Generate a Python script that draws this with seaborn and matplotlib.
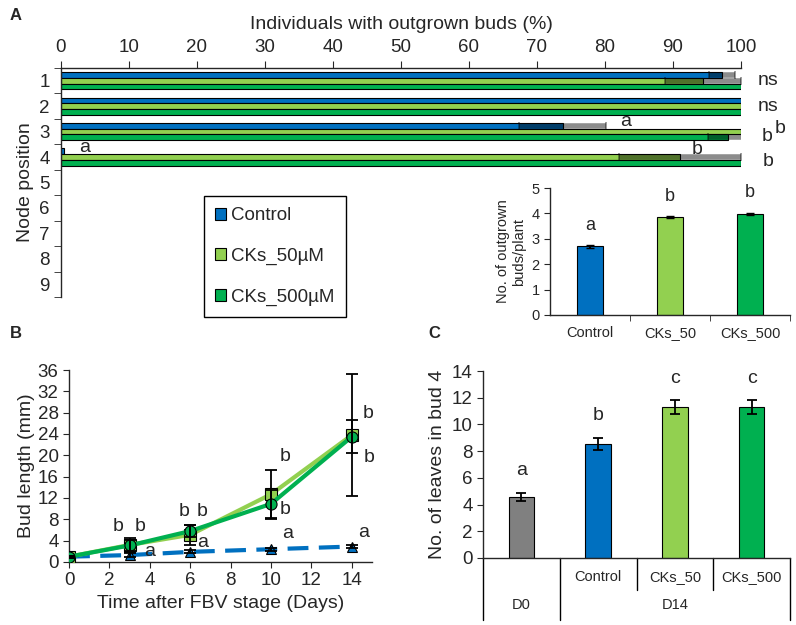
'''
Bud outgrowth figure (panels A, inset, B, C)
'''
import matplotlib
matplotlib.use('Agg')
import matplotlib.pyplot as plt
from matplotlib.patches import Patch
from matplotlib.ticker import FixedLocator
import seaborn as sns
import pandas as pd

sns.set_style('ticks')
plt.rcParams['font.family'] = ['Liberation Sans', 'DejaVu Sans']
plt.rcParams['axes.linewidth'] = 1.0

blue, lgreen, dgreen, grey = '#0070C0', '#92D050', '#00B050', '#808080'

# Panel A data: % individuals with outgrown buds per node
nodes = ['1', '2', '3', '4', '5', '6', '7', '8', '9']
treatments = ['Control', 'CKs_50µM', 'CKs_500µM']
pct_control = [97.2, 100, 73.8, 0.5]
pct_ck50 = [94.4, 100, 100, 91.0]
pct_ck500 = [100, 100, 98.1, 100]
err_control = [1.9, 0, 6.4, 0]
err_ck50 = [5.6, 0, 0, 9.0]
err_ck500 = [0, 0, 3.0, 0]

# Inset data: outgrown buds per plant
inset_groups = ['Control', 'CKs_50', 'CKs_500']
buds_per_plant = [2.7, 3.85, 3.98]
buds_err = [0.06, 0.04, 0.03]
buds_letters = ['a', 'b', 'b']

# Panel B data: bud length over time
days = [0, 3, 6, 10, 14]
len_control = [1.0, 1.3, 1.9, 2.4, 2.9]
len_ck50 = [1.0, 3.2, 5.1, 12.7, 23.8]
len_ck500 = [1.0, 3.1, 5.8, 10.9, 23.5]
lerr_control = [0.1, 0.3, 0.3, 0.3, 0.3]
lerr_ck50 = [0.2, 1.3, 1.9, 4.6, 11.4]
lerr_ck500 = [0.2, 1.0, 1.2, 2.6, 3.1]

# Panel C data: leaves in bud 4
leaf_groups = ['D0', 'Control', 'CKs_50', 'CKs_500']
leaves = [4.6, 8.55, 11.3, 11.3]
leaves_err = [0.3, 0.45, 0.5, 0.5]
leaves_letters = ['a', 'b', 'c', 'c']

fig = plt.figure(figsize=(7.96, 6.25), dpi=100)

'''
Panel A
'''
axA = fig.add_axes([0.0766, 0.5248, 0.8543, 0.3664])
rows = []
for vals, t in zip([pct_control, pct_ck50, pct_ck500], treatments):
    for n, v in zip(nodes, vals):
        rows.append({'node': n, 'treatment': t, 'pct': v})
dfA = pd.DataFrame(rows)
barw = 0.68
sns.barplot(data=dfA, x='pct', y='node', hue='treatment', order=nodes,
            hue_order=treatments, palette=[blue, lgreen, dgreen], width=barw,
            saturation=1, edgecolor='black', linewidth=0.8, errorbar=None,
            orient='h', legend=False, ax=axA)
for i, (vals, errs) in enumerate(zip([pct_control, pct_ck50, pct_ck500],
                                     [err_control, err_ck50, err_ck500])):
    for j, (v, e) in enumerate(zip(vals, errs)):
        if e > 0:
            yc = j - barw / 2 + barw / 3 * (i + 0.5)
            axA.errorbar(v, yc, xerr=e, fmt='none', ecolor='black', alpha=0.45,
                         elinewidth=4, capsize=3, capthick=1.2, zorder=5)
axA.set_xlim(0, 100)
axA.set_ylim(8.5, -0.5)
axA.xaxis.tick_top()
axA.xaxis.set_label_position('top')
axA.set_xticks(range(0, 101, 10))
axA.set_xlabel('Individuals with outgrown buds (%)', fontsize=14, labelpad=7)
axA.set_ylabel('Node position', fontsize=14, labelpad=4)
axA.tick_params(axis='x', labelsize=13.5, length=5, direction='out')
axA.tick_params(axis='y', which='major', labelsize=13.5, length=0, pad=8)
axA.yaxis.set_minor_locator(FixedLocator([k - 0.5 for k in range(10)]))
axA.tick_params(axis='y', which='minor', length=5)
axA.spines['right'].set_visible(False)
axA.spines['bottom'].set_visible(False)

for x, y, s in [(104, 0, 'ns'), (104, 1, 'ns'), (83, 1.62, 'a'),
                (105.7, 1.86, 'b'), (103.8, 2.21, 'b'), (3.5, 2.61, 'a'),
                (93.5, 2.72, 'b'), (104, 3.19, 'b')]:
    axA.text(x, y, s, fontsize=14, ha='center', va='center', clip_on=False)

handles = [Patch(facecolor=c, edgecolor='black', linewidth=0.8)
           for c in [blue, lgreen, dgreen]]
leg = fig.legend(handles, treatments, loc='upper left',
                 bbox_to_anchor=(0.256, 0.686), fontsize=13.5, frameon=True,
                 fancybox=False, edgecolor='black', framealpha=1,
                 handlelength=0.6, handleheight=0.6, handletextpad=0.25,
                 labelspacing=1.25, borderpad=0.6, borderaxespad=0)
leg.get_frame().set_linewidth(1.0)

'''
Inset: buds per plant
'''
axI = fig.add_axes([0.691, 0.496, 0.3015, 0.2032])
sns.barplot(x=inset_groups, y=buds_per_plant, hue=inset_groups,
            palette=[blue, lgreen, dgreen], width=0.33, saturation=1,
            edgecolor='black', linewidth=0.8, legend=False, ax=axI)
axI.errorbar(range(3), buds_per_plant, yerr=buds_err, fmt='none',
             ecolor='black', elinewidth=1.5, capsize=3)
for k, (v, s) in enumerate(zip(buds_per_plant, buds_letters)):
    axI.text(k, v + 0.5, s, fontsize=13, ha='center', va='bottom')
axI.set_xlim(-0.5, 2.5)
axI.set_ylim(0, 5)
axI.set_yticks(range(0, 6))
axI.set_ylabel('No. of outgrown\nbuds/plant', fontsize=10.5)
axI.tick_params(axis='both', which='major', labelsize=10.5)
axI.tick_params(axis='x', which='major', length=0, pad=8)
axI.xaxis.set_minor_locator(FixedLocator([0.5, 1.5, 2.5]))
axI.tick_params(axis='x', which='minor', length=4)
axI.tick_params(axis='y', length=4)
axI.set_facecolor('none')
sns.despine(ax=axI)

'''
Panel B: bud length
'''
axB = fig.add_axes([0.0867, 0.1008, 0.3807, 0.3072])
dfB = pd.DataFrame({'day': days, 'control': len_control,
                    'ck50': len_ck50, 'ck500': len_ck500})
sns.lineplot(data=dfB, x='day', y='control', color=blue, lw=3,
             linestyle=(0, (5, 2.5)), marker='^', markersize=7,
             markeredgecolor='black', markeredgewidth=0.8, ax=axB, zorder=2)
sns.lineplot(data=dfB, x='day', y='ck50', color=lgreen, lw=3, marker='s',
             markersize=8, markeredgecolor='black', markeredgewidth=0.8,
             ax=axB, zorder=3)
sns.lineplot(data=dfB, x='day', y='ck500', color=dgreen, lw=3, marker='o',
             markersize=8, markeredgecolor='black', markeredgewidth=0.8,
             ax=axB, zorder=4)
for vals, errs in [(len_control, lerr_control), (len_ck50, lerr_ck50),
                   (len_ck500, lerr_ck500)]:
    axB.errorbar(days, vals, yerr=errs, fmt='none', ecolor='black',
                 elinewidth=1.3, capsize=4, capthick=1.3, zorder=5)
for x, y, s in [(2.42, 6.6, 'b'), (3.5, 6.6, 'b'), (4.0, 1.9, 'a'),
                (5.7, 9.4, 'b'), (6.6, 9.4, 'b'), (6.6, 3.6, 'a'),
                (10.7, 19.7, 'b'), (10.7, 9.9, 'b'), (10.8, 5.4, 'a'),
                (14.8, 27.9, 'b'), (14.85, 19.5, 'b'), (14.6, 5.6, 'a')]:
    axB.text(x, y, s, fontsize=14, ha='center', va='center')
axB.set_xlim(0, 15)
axB.set_ylim(0, 36)
axB.set_xticks(range(0, 15, 2))
axB.set_yticks(range(0, 37, 4))
axB.set_xlabel('Time after FBV stage (Days)', fontsize=14)
axB.set_ylabel('Bud length (mm)', fontsize=14, labelpad=2)
axB.tick_params(labelsize=13.5, length=4)
sns.despine(ax=axB)

'''
Panel C: leaves in bud 4
'''
axC = fig.add_axes([0.6068, 0.1072, 0.3857, 0.2992])
sns.barplot(x=leaf_groups, y=leaves, hue=leaf_groups,
            palette=[grey, blue, lgreen, dgreen], width=0.33, saturation=1,
            edgecolor='black', linewidth=0.8, legend=False, ax=axC)
axC.errorbar(range(4), leaves, yerr=leaves_err, fmt='none', ecolor='black',
             elinewidth=1.3, capsize=3.5, capthick=1.3)
for k, (v, e, s) in enumerate(zip(leaves, leaves_err, leaves_letters)):
    axC.text(k, v + e + 1.0, s, fontsize=14, ha='center', va='bottom')
axC.set_xlim(-0.5, 3.5)
axC.set_ylim(0, 14)
axC.set_yticks(range(0, 15, 2))
axC.set_ylabel('No. of leaves in bud 4', fontsize=14, labelpad=4)
axC.tick_params(axis='y', labelsize=13.5, length=4)
axC.set_xticks([])
sns.despine(ax=axC)

# two-level category axis
trans = axC.get_xaxis_transform()
for x, y0 in [(-0.5, -0.33), (0.5, -0.33), (1.5, -0.17), (2.5, -0.17), (3.5, -0.33)]:
    axC.plot([x, x], [0, y0], color='black', lw=1.0, transform=trans,
             clip_on=False)
for k, s in zip([1, 2, 3], leaf_groups[1:]):
    axC.text(k, -0.10, s, fontsize=10.5, ha='center', va='center',
             transform=trans)
axC.text(0, -0.25, 'D0', fontsize=10.5, ha='center', va='center', transform=trans)
axC.text(2, -0.25, 'D14', fontsize=10.5, ha='center', va='center', transform=trans)

# panel letters
fig.text(0.012, 0.975, 'A', fontsize=12, fontweight='bold', va='center')
fig.text(0.012, 0.467, 'B', fontsize=12, fontweight='bold', va='center')
fig.text(0.538, 0.467, 'C', fontsize=12, fontweight='bold', va='center')

plt.savefig('out.png', dpi=100)
